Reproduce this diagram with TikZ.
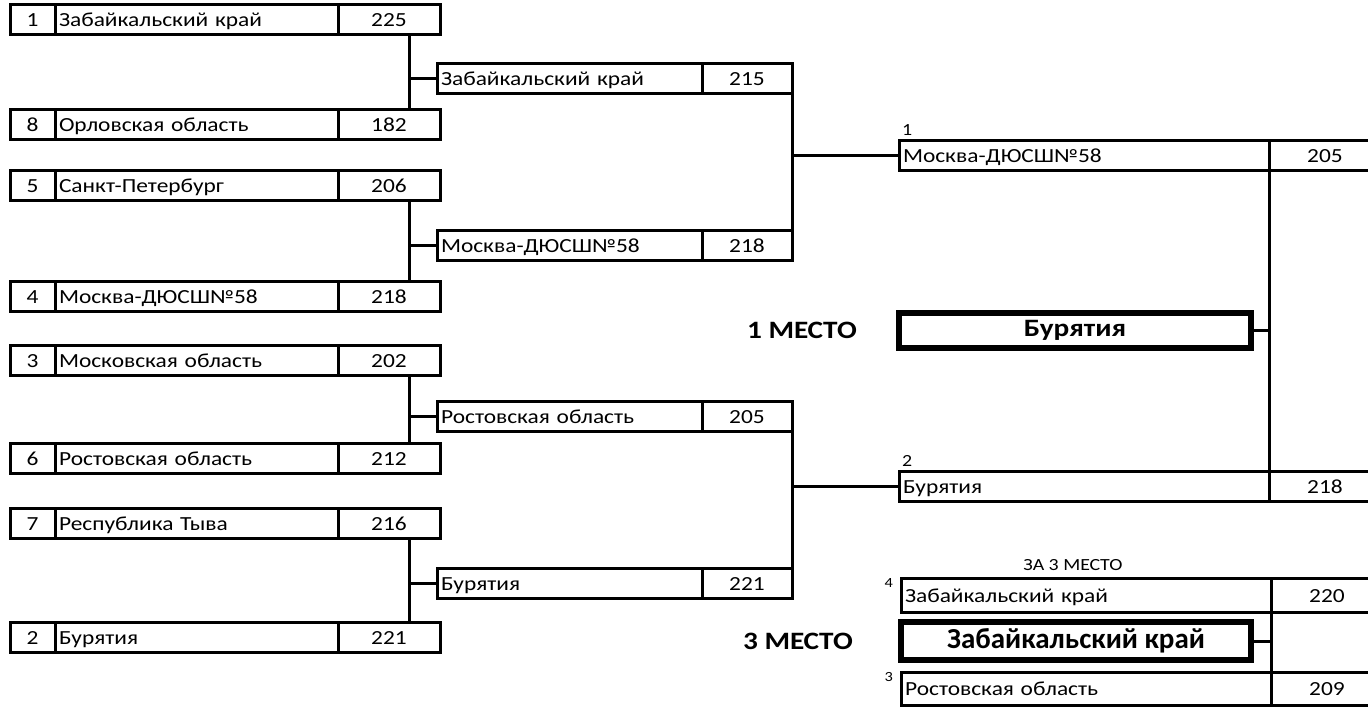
\documentclass[tikz,border=0pt]{standalone}
\usepackage{fontspec}
\setmainfont{Carlito}[FakeStretch=1.17]
\newfontfamily\plainfont{Carlito}
\usetikzlibrary{positioning}
\tikzset{every picture/.style = {x=1pt, y=-1pt}}
\tikzset{cell/.style = {draw, line width=3, outer sep=0, minimum height=30, inner xsep=4, inner ysep=0, text height=15, text depth=1, font=\fontsize{20}{24}\selectfont}}
\tikzset{seed/.style = {cell, minimum width=45}}
\tikzset{r1team/.style = {cell, text width=275, align=left}}
\tikzset{r1score/.style = {cell, minimum width=102}}
\tikzset{r2team/.style = {cell, text width=257, align=left}}
\tikzset{r2score/.style = {cell, minimum width=90}}
\tikzset{fteam/.style = {cell, text width=362, align=left}}
\tikzset{fscore/.style = {cell, minimum width=112}}
\tikzset{winner/.style = {draw, line width=5.5, outer sep=0, minimum width=352, minimum height=35, font=\bfseries\fontsize{25}{28}\selectfont}}
\tikzset{place/.style = {inner sep=0, font=\bfseries\fontsize{25}{28}\selectfont}}
\tikzset{tag/.style = {inner sep=0, font=\fontsize{17}{18}\selectfont}}
\tikzset{supnum/.style = {inner sep=0, font=\fontsize{14}{15}\selectfont}}
\tikzset{link/.style = {line width=3}}

\begin{document}
\begin{tikzpicture}
  \path[use as bounding box, clip] (0, 0) rectangle (1368, 707);

  % first round
  \node[seed, anchor=west] (n1) at (10, 19.5) {1};
  \node[r1team, right=0pt of n1] (t1) {Забайкальский край};
  \node[r1score, right=0pt of t1] (p1) {225};
  \node[seed, anchor=west] (n8) at (10, 124.5) {8};
  \node[r1team, right=0pt of n8] (t8) {Орловская область};
  \node[r1score, right=0pt of t8] (p8) {182};
  \node[seed, anchor=west] (n5) at (10, 185) {5};
  \node[r1team, right=0pt of n5] (t5) {Санкт-Петербург};
  \node[r1score, right=0pt of t5] (p5) {206};
  \node[seed, anchor=west] (n4) at (10, 296.5) {4};
  \node[r1team, right=0pt of n4] (t4) {Москва-ДЮСШ№58};
  \node[r1score, right=0pt of t4] (p4) {218};
  \node[seed, anchor=west] (n3) at (10, 360) {3};
  \node[r1team, right=0pt of n3] (t3) {Московская область};
  \node[r1score, right=0pt of t3] (p3) {202};
  \node[seed, anchor=west] (n6) at (10, 458.5) {6};
  \node[r1team, right=0pt of n6] (t6) {Ростовская область};
  \node[r1score, right=0pt of t6] (p6) {212};
  \node[seed, anchor=west] (n7) at (10, 523) {7};
  \node[r1team, right=0pt of n7] (t7) {Республика Тыва};
  \node[r1score, right=0pt of t7] (p7) {216};
  \node[seed, anchor=west] (n2) at (10, 637.5) {2};
  \node[r1team, right=0pt of n2] (t2) {Бурятия};
  \node[r1score, right=0pt of t2] (p2) {221};

  % semifinals
  \node[r2team, anchor=west] (q1t) at (437, 78.5) {Забайкальский край};
  \node[r2score, right=0pt of q1t] (q1p) {215};
  \node[r2team, anchor=west] (q2t) at (437, 245) {Москва-ДЮСШ№58};
  \node[r2score, right=0pt of q2t] (q2p) {218};
  \node[r2team, anchor=west] (q3t) at (437, 416.5) {Ростовская область};
  \node[r2score, right=0pt of q3t] (q3p) {205};
  \node[r2team, anchor=west] (q4t) at (437, 583.5) {Бурятия};
  \node[r2score, right=0pt of q4t] (q4p) {221};

  % final
  \node[fteam, anchor=west] (f1t) at (899, 155) {Москва-ДЮСШ№58};
  \node[fscore, right=0pt of f1t] (f1p) {205};
  \node[fteam, anchor=west] (f2t) at (899, 486) {Бурятия};
  \node[fscore, right=0pt of f2t] (f2p) {218};
  \node[tag, anchor=south west] (f1n) at ([shift={(3, -4)}]f1t.north west) {1};
  \node[tag, anchor=south west] (f2n) at ([shift={(3, -4)}]f2t.north west) {2};
  \node[winner, anchor=west] (gold) at (899, 330.5) {Бурятия};
  \node[place, left=42pt of gold] (goldl) {1 МЕСТО};

  % third place
  \node[tag] (bronzel) at (1073, 565) {ЗА 3 МЕСТО};
  \node[fteam, anchor=west, minimum height=34] (b4t) at (901, 595) {Забайкальский край};
  \node[fscore, minimum height=34, right=0pt of b4t] (b4p) {220};
  \node[fteam, anchor=west, minimum height=33] (b3t) at (901, 688.5) {Ростовская область};
  \node[fscore, minimum height=33, right=0pt of b3t] (b3p) {209};
  \node[supnum, anchor=north east] (b4n) at ([xshift=-8]b4t.north west) {4};
  \node[supnum, anchor=north east] (b3n) at ([xshift=-8]b3t.north west) {3};
  \node[winner, anchor=west, minimum width=350, minimum height=38,
    font=\plainfont\bfseries\fontsize{29}{32}\selectfont] (bronze) at (901, 641) {Забайкальский край};
  \node[place, left=48pt of bronze] (bronzep) {3 МЕСТО};

  % connectors
  \coordinate (j1) at ([xshift=20]p1.south);
  \coordinate (j2) at ([xshift=20]p5.south);
  \coordinate (j3) at ([xshift=20]p3.south);
  \coordinate (j4) at ([xshift=20]p7.south);
  \draw[link] (j1) -- (j1 |- p8.north) (j1 |- q1t.west) -- (q1t.west);
  \draw[link] (j2) -- (j2 |- p4.north) (j2 |- q2t.west) -- (q2t.west);
  \draw[link] (j3) -- (j3 |- p6.north) (j3 |- q3t.west) -- (q3t.west);
  \draw[link] (j4) -- (j4 |- p2.north) (j4 |- q4t.west) -- (q4t.west);
  \draw[link] (q1p.south east) -- (q2p.north east) (q1p.east |- f1t.west) -- (f1t.west);
  \draw[link] (q3p.south east) -- (q4p.north east) (q3p.east |- f2t.west) -- (f2t.west);
  \draw[link] (f1p.south west) -- (f2p.north west) (gold.east) -- (gold.east -| f1p.west);
  \draw[link] (b4p.south west) -- (b3p.north west) (bronze.east) -- (bronze.east -| b4p.west);
\end{tikzpicture}
\end{document}
